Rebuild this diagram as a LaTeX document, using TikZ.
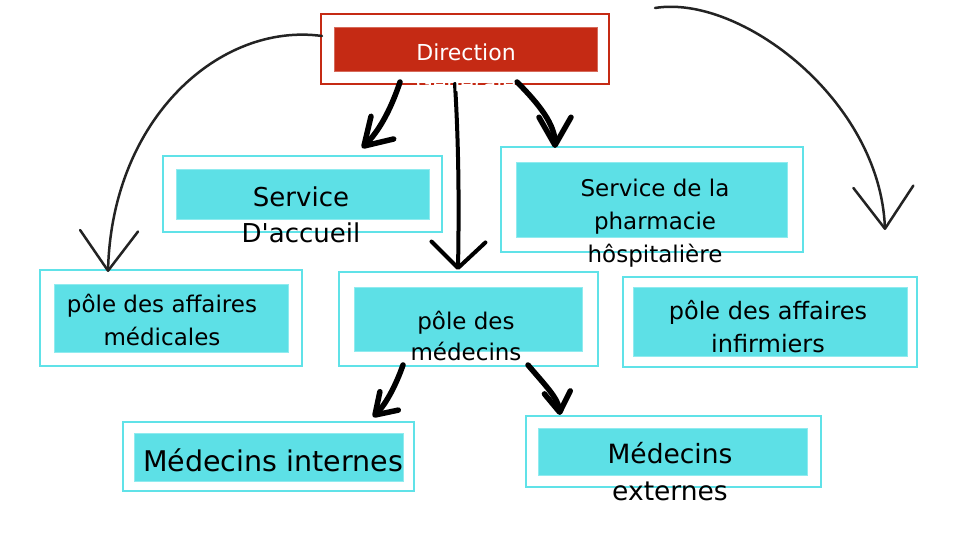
\documentclass[tikz,border=0pt]{standalone}
\usepackage{fontspec}
\setmainfont{DejaVu Sans}[Ligatures=TeXOff]
\usetikzlibrary{arrows.meta}
\definecolor{cyF}{RGB}{93,224,230}
\definecolor{cyB}{RGB}{96,226,232}
\definecolor{redD}{RGB}{197,42,20}
\definecolor{arcC}{RGB}{35,35,35}
\begin{document}
\begin{tikzpicture}[x=1pt,y=-1pt,
  outerbox/.style 2 args={draw=cyB,line width=2pt,fill=white,inner sep=0pt,minimum width=#1,minimum height=#2},
  innerbox/.style 2 args={draw=cyB!70!white,line width=0.8pt,fill=cyF,inner sep=0pt,minimum width=#1,minimum height=#2},
  outerred/.style 2 args={draw=redD,line width=2pt,fill=white,inner sep=0pt,minimum width=#1,minimum height=#2},
  innerred/.style 2 args={draw=redD!70!white,line width=0.8pt,fill=redD,inner sep=0pt,minimum width=#1,minimum height=#2},
  txt/.style={align=center,inner sep=0pt,text=black},
  thickarrow/.style={line width=5.5pt,line cap=round,draw=black},
  arcarrow/.style={line width=2.5pt,line cap=round,draw=arcC}
]
\fill[white] (0,0) rectangle (959,545);
\useasboundingbox (0,0) rectangle (959,545);

% boxes
\node[outerred={288pt}{70pt}] (dir) at (465,49) {};
\node[innerred={263pt}{44pt}] (dirin) at (465.5,49) {};

\node[outerbox={279pt}{76pt}] (acc) at (302.5,194) {};
\node[innerbox={253pt}{50pt}] (accin) at (302.5,194) {};

\node[outerbox={302pt}{105pt}] (pha) at (652,199.5) {};
\node[innerbox={271pt}{75pt}] (phain) at (651.5,199.5) {};

\node[outerbox={262pt}{96pt}] (pam) at (171,318) {};
\node[innerbox={234pt}{68pt}] (pamin) at (171,318) {};

\node[outerbox={259pt}{94pt}] (med) at (468.5,319) {};
\node[innerbox={228pt}{64pt}] (medin) at (468,319) {};

\node[outerbox={294pt}{90pt}] (pai) at (770,322) {};
\node[innerbox={274pt}{69pt}] (paiin) at (770,321.5) {};

\node[outerbox={291pt}{69pt}] (mint) at (268.5,456.5) {};
\node[innerbox={269pt}{48pt}] (mintin) at (268.5,457) {};

\node[outerbox={295pt}{71pt}] (mext) at (673.5,451.5) {};
\node[innerbox={269pt}{47pt}] (mextin) at (672.5,451.5) {};

% arrow end points
\coordinate (d1) at (400,82);
\coordinate (e1) at (362,148);
\coordinate (d2) at (455,84);
\coordinate (e2) at (458,270);
\coordinate (d3) at (517,82);
\coordinate (e3) at (555,148);
\coordinate (m1) at (403,365);
\coordinate (f1) at (373,417);
\coordinate (m2) at (528,365);
\coordinate (f2) at (560,415);
\coordinate (a1s) at (322,36);
\coordinate (a1e) at (108,272);
\coordinate (a2s) at (655,8);
\coordinate (a2e) at (885,230);

% arrows
\draw[thickarrow,-{Straight Barb[length=26pt,width=32pt,round]}] (d1) .. controls (390,112) and (378,132) .. (e1);
\draw[thickarrow,line width=4pt,-{Straight Barb[length=26pt,width=54pt,round]}] (d2) .. controls (459,150) and (459,210) .. (e2);
\draw[thickarrow,-{Straight Barb[length=28pt,width=32pt,round]}] (d3) .. controls (540,105) and (555,125) .. (e3);
\draw[thickarrow,-{Straight Barb[length=20pt,width=26pt,round]}] (m1) .. controls (396,385) and (386,404) .. (f1);
\draw[thickarrow,-{Straight Barb[length=20pt,width=26pt,round]}] (m2) .. controls (545,385) and (558,398) .. (f2);
\draw[arcarrow,-{Straight Barb[length=40pt,width=58pt,round]}] (a1s) .. controls (220,22) and (112,118) .. (a1e);
\draw[arcarrow,-{Straight Barb[length=42pt,width=60pt,round]}] (a2s) .. controls (740,-6) and (880,100) .. (a2e);

% texts
\node[txt,text=white,font=\fontsize{22}{31}\selectfont] (dirt) at (466,67.5) {Direction\\Générale};
\node[txt,font=\fontsize{26}{36}\selectfont] (acct) at (301,215) {Service\\D'accueil};
\node[txt,font=\fontsize{23}{33}\selectfont] (phat) at (655,223.5) {Service de la\\pharmacie\\hôspitalière};
\node[txt,font=\fontsize{23}{33}\selectfont] (pamt) at (162,319.5) {pôle des affaires\\médicales};
\node[txt,font=\fontsize{23}{31}\selectfont] (medt) at (466,336) {pôle des\\médecins};
\node[txt,font=\fontsize{24}{33}\selectfont] (pait) at (768,327) {pôle des affaires\\infirmiers};
\node[txt,font=\fontsize{28.5}{38}\selectfont] (mintt) at (273,460) {Médecins internes};
\node[txt,font=\fontsize{26.5}{37}\selectfont] (mextt) at (670,472) {Médecins\\externes};
\end{tikzpicture}
\end{document}
